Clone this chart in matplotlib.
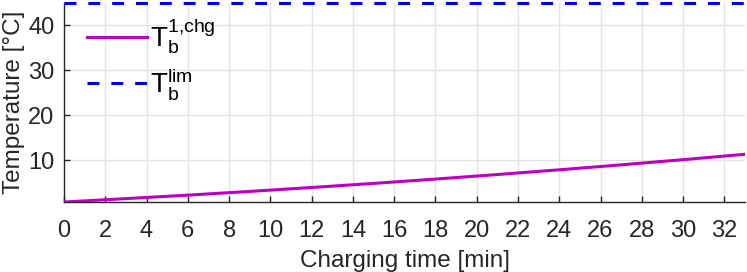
import numpy as np
import matplotlib
matplotlib.use('Agg')
import matplotlib.pyplot as plt

plt.rcParams['font.family'] = ['Liberation Sans', 'DejaVu Sans']
plt.rcParams['mathtext.fontset'] = 'custom'
plt.rcParams['mathtext.rm'] = 'Liberation Sans'
plt.rcParams['mathtext.it'] = 'Liberation Sans'

# charging time [min] and battery temperature [degC]
time_min = [0, 3, 6, 9, 12, 15, 18, 21, 24, 27, 30, 33]
temp_chg = [0.7, 1.45, 2.22, 3.05, 3.92, 4.83, 5.79, 6.8, 7.85, 8.95, 10.1, 11.3]
temp_lim = 45

xticks = np.arange(0, 33, 2)
yticks = [10, 20, 30, 40]

fig = plt.figure(figsize=(7.47, 2.72), dpi=100)
ax = fig.add_axes([64 / 747, 1 - 202 / 272, 681 / 747, 199.5 / 272])

ax.plot(time_min, temp_chg, color=(0.75, 0, 0.75), lw=2.2,
        label=r'$\mathrm{T_b^{1{,}chg}}$', zorder=3)
ax.axhline(temp_lim, color=(0, 0, 1), lw=2.2, ls=(0, (3.9, 3.9)),
           label=r'$\mathrm{T_b^{lim}}$', zorder=3, clip_on=False)

ax.set_xlim(0, 33)
ax.set_ylim(temp_chg[0], temp_lim)
ax.set_xticks(xticks)
ax.set_yticks(yticks)
ax.grid(True, color='#e3e3e3', lw=1)
ax.set_axisbelow(True)

for s in ['top', 'right']:
    ax.spines[s].set_visible(False)
for s in ['left', 'bottom']:
    ax.spines[s].set_color('#262626')
    ax.spines[s].set_linewidth(1)

ax.tick_params(direction='in', length=4.5, width=1, color='#262626',
               labelsize=17, labelcolor='#262626')
ax.tick_params(axis='x', pad=13)
ax.tick_params(axis='y', pad=7)
ax.set_xlabel('Charging time [min]', fontsize=17.5, color='#262626', labelpad=6)
ax.set_ylabel('Temperature [°C]', fontsize=17.5, color='#262626', labelpad=2)

leg = ax.legend(loc='upper left', frameon=False, fontsize=20,
                handlelength=2.15, handletextpad=0.1, labelspacing=0.35,
                borderaxespad=0, bbox_to_anchor=(0.018, 0.985))

fig.savefig('out.png', dpi=100)
